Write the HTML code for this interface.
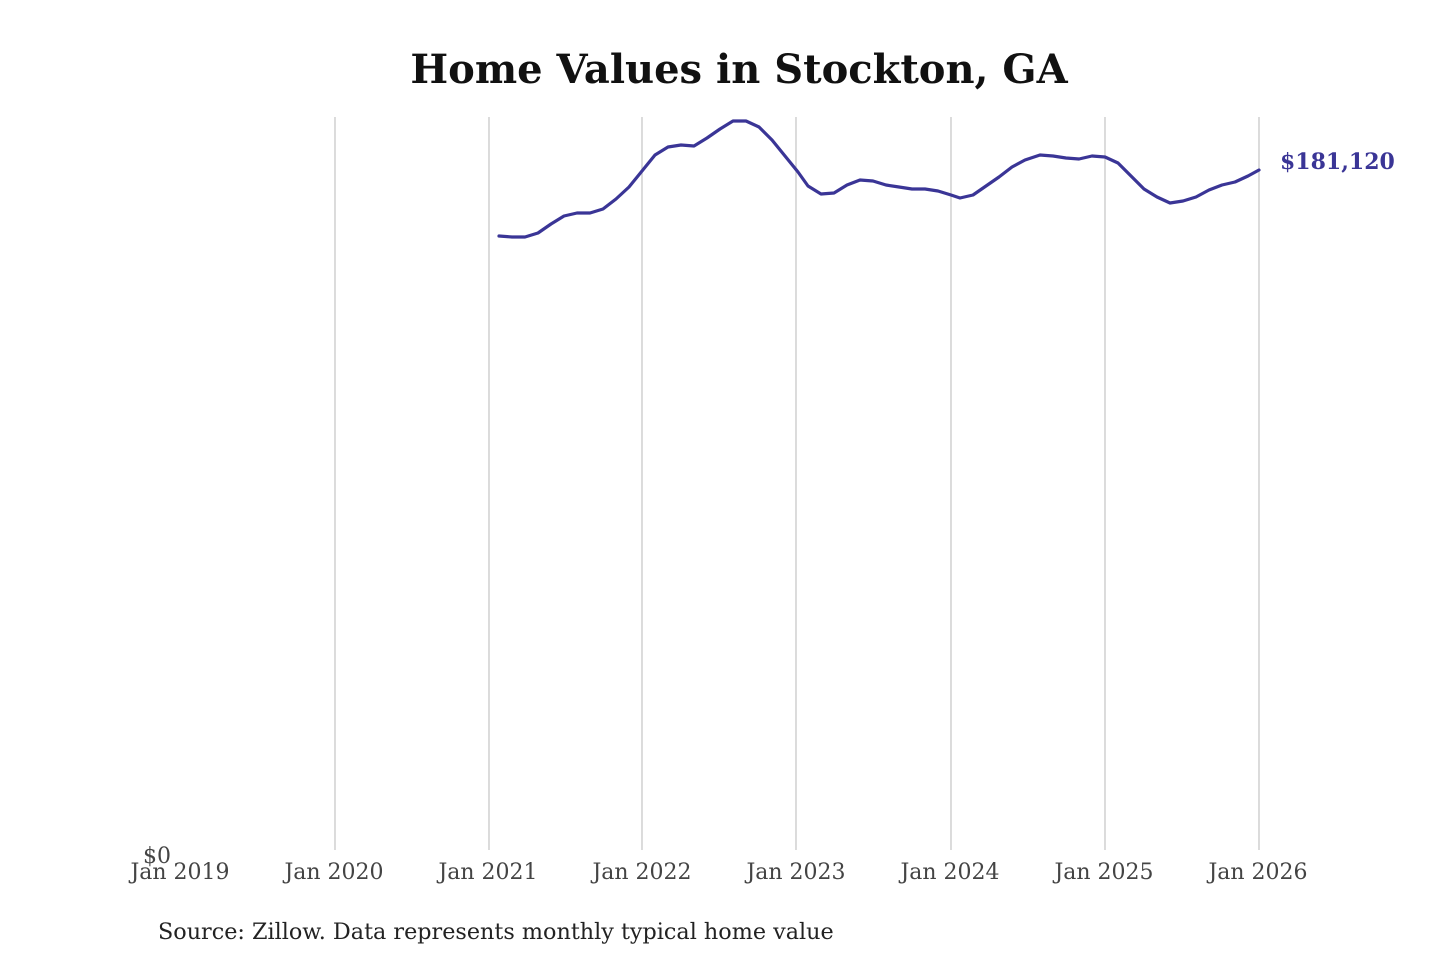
<!DOCTYPE html>
<html><head><meta charset="utf-8"><style>
html,body{margin:0;padding:0;background:#fff;width:1440px;height:960px;overflow:hidden}
</style></head><body>
<svg width="1440" height="960" xmlns="http://www.w3.org/2000/svg" font-family="'DejaVu Serif','Liberation Serif',serif">
<text x="739" y="83" text-anchor="middle" font-size="40" font-weight="bold" fill="#111">Home Values in Stockton, GA</text>
<g stroke="#c8c8c8" stroke-width="1.3">
<line x1="335" y1="117" x2="335" y2="850"/>
<line x1="489" y1="117" x2="489" y2="850"/>
<line x1="642" y1="117" x2="642" y2="850"/>
<line x1="796" y1="117" x2="796" y2="850"/>
<line x1="951" y1="117" x2="951" y2="850"/>
<line x1="1105" y1="117" x2="1105" y2="850"/>
<line x1="1259" y1="117" x2="1259" y2="850"/>
</g>
<g font-size="22" fill="#444" text-anchor="middle">
<text x="157" y="863">$0</text>
<text x="180" y="879">Jan 2019</text>
<text x="334" y="879">Jan 2020</text>
<text x="488" y="879">Jan 2021</text>
<text x="642" y="879">Jan 2022</text>
<text x="796" y="879">Jan 2023</text>
<text x="950" y="879">Jan 2024</text>
<text x="1104" y="879">Jan 2025</text>
<text x="1258" y="879">Jan 2026</text>
</g>
<polyline fill="none" stroke="#3a3596" stroke-width="3.2" stroke-linejoin="round" stroke-linecap="round" points="499,236 512,237 525,237 538,233 551,224 564,216 577,213 590,213 603,209 616,199 629,187 642,171 655,155 668,147 681,145 694,146 707,138 720,129 733,121 746,121 759,127 772,140 785,156 798,172 808,186 821,194 834,193 847,185 860,180 873,181 886,185 899,187 912,189 925,189 938,191 951,195 960,198 973,195 986,186 999,177 1012,167 1025,160 1040,155 1053,156 1066,158 1079,159 1092,156 1105,157 1118,163 1131,176 1144,189 1157,197 1170,203 1183,201 1196,197 1209,190 1222,185 1235,182 1248,176 1259,170"/>
<text x="1280" y="169" font-size="22" font-weight="bold" fill="#3a3596">$181,120</text>
<text x="158" y="939" font-size="22.3" fill="#222">Source: Zillow. Data represents monthly typical home value</text>
</svg>
</body></html>
